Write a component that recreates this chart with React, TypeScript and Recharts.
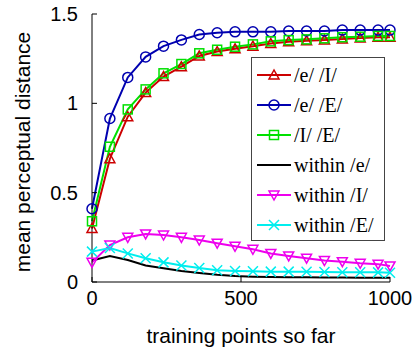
import React from 'react'
import { LineChart, Line, XAxis, YAxis, Label } from 'recharts'

// training points at which distances were measured
const trainingPoints = [0, 60, 120, 180, 240, 300, 360, 420, 480, 540, 600, 660, 720, 780, 840, 900, 960, 1000]

// between-category distances
const eVsI = [0.3, 0.69, 0.925, 1.06, 1.15, 1.205, 1.265, 1.29, 1.305, 1.32, 1.335, 1.345, 1.35, 1.355, 1.36, 1.365, 1.37, 1.37]
const eVsE = [0.41, 0.915, 1.145, 1.26, 1.32, 1.355, 1.385, 1.395, 1.4, 1.4, 1.4, 1.405, 1.405, 1.405, 1.41, 1.41, 1.41, 1.41]
const iVsE = [0.34, 0.757, 0.966, 1.078, 1.168, 1.22, 1.28, 1.3, 1.317, 1.33, 1.347, 1.354, 1.358, 1.364, 1.37, 1.373, 1.377, 1.377]

// within-category distances
const withinE = [0.12, 0.145, 0.123, 0.092, 0.077, 0.062, 0.05, 0.04, 0.033, 0.03, 0.028, 0.027, 0.026, 0.025, 0.025, 0.024, 0.024, 0.024]
const withinI = [0.11, 0.207, 0.25, 0.269, 0.263, 0.25, 0.235, 0.217, 0.2, 0.183, 0.16, 0.146, 0.133, 0.12, 0.114, 0.105, 0.1, 0.09]
const withinEps = [0.17, 0.19, 0.16, 0.133, 0.11, 0.092, 0.078, 0.066, 0.062, 0.06, 0.058, 0.058, 0.057, 0.056, 0.055, 0.055, 0.054, 0.052]

const xTicks = [0, 500, 1000]
const yTicks = [0, 0.5, 1, 1.5]

type Shape = 'triUp' | 'circle' | 'square' | 'none' | 'triDown' | 'cross'

const series: { key: string; name: string; color: string; shape: Shape; values: number[] }[] = [
  { key: 'eI', name: '/e/ /I/', color: '#cc0000', shape: 'triUp', values: eVsI },
  { key: 'eE', name: '/e/ /E/', color: '#0000b0', shape: 'circle', values: eVsE },
  { key: 'IE', name: '/I/ /E/', color: '#00e000', shape: 'square', values: iVsE },
  { key: 'we', name: 'within /e/', color: '#000000', shape: 'none', values: withinE },
  { key: 'wI', name: 'within /I/', color: '#ee00ee', shape: 'triDown', values: withinI },
  { key: 'wE', name: 'within /E/', color: '#00eeee', shape: 'cross', values: withinEps },
]

const data = trainingPoints.map((x, i) => {
  const row: Record<string, number> = { x }
  series.forEach(s => { row[s.key] = s.values[i] })
  return row
})

function Marker({ cx, cy, shape, color }: { cx?: number; cy?: number; shape: Shape; color: string }) {
  if (cx == null || cy == null || shape === 'none') return null
  const s = 5
  const common = { fill: 'none', stroke: color, strokeWidth: 1.5 }
  switch (shape) {
    case 'triUp':
      return <polygon points={`${cx},${cy - s} ${cx - s},${cy + s * 0.8} ${cx + s},${cy + s * 0.8}`} {...common} />
    case 'triDown':
      return <polygon points={`${cx},${cy + s} ${cx - s},${cy - s * 0.8} ${cx + s},${cy - s * 0.8}`} {...common} />
    case 'circle':
      return <circle cx={cx} cy={cy} r={s} {...common} />
    case 'square':
      return <rect x={cx - 4.5} y={cy - 4.5} width={9} height={9} {...common} />
    case 'cross':
      return <path d={`M${cx - s},${cy - s}L${cx + s},${cy + s}M${cx - s},${cy + s}L${cx + s},${cy - s}`} {...common} />
  }
  return null
}

const tickStyle = { fontSize: 20, fill: '#000', fontFamily: '"Liberation Sans", Arial, sans-serif' }

export default function App() {
  return (
    <div style={{ position: 'absolute', left: 0, top: 0, width: 418, height: 347, background: '#fff' }}>
      <LineChart width={418} height={347} data={data} margin={{ top: 14, right: 28, left: 0, bottom: 0 }}>
        <XAxis
          dataKey="x"
          type="number"
          domain={[0, 1000]}
          ticks={xTicks}
          stroke="#000"
          tick={tickStyle}
          tickSize={-5}
          tickMargin={14}
          height={65}
        >
          <Label
            value="training points so far"
            position="insideBottom"
            offset={4}
            fontSize={21}
            fill="#000"
            fontFamily='"Liberation Sans", Arial, sans-serif'
          />
        </XAxis>
        <YAxis
          type="number"
          domain={[0, 1.5]}
          ticks={yTicks}
          stroke="#000"
          tick={tickStyle}
          tickSize={-5}
          tickMargin={19}
          width={92}
        >
          <Label
            content={() => (
              <text
                x={30}
                y={152}
                transform="rotate(-90 30 152)"
                textAnchor="middle"
                fontSize={21}
                fill="#000"
                fontFamily='"Liberation Sans", Arial, sans-serif'
              >
                mean perceptual distance
              </text>
            )}
          />
        </YAxis>
        {series.map(s => (
          <Line
            key={s.key}
            dataKey={s.key}
            name={s.name}
            stroke={s.color}
            strokeWidth={2}
            isAnimationActive={false}
            dot={(p: any) => <Marker key={`${s.key}-${p.index}`} cx={p.cx} cy={p.cy} shape={s.shape} color={s.color} />}
            activeDot={false}
          />
        ))}
      </LineChart>
      <div
        style={{
          position: 'absolute',
          left: 251,
          top: 57,
          width: 134,
          height: 184,
          boxSizing: 'border-box',
          border: '1px solid #444',
          background: '#fff',
          paddingTop: 2,
          paddingLeft: 4,
          fontFamily: '"Liberation Serif", "Times New Roman", serif',
          fontSize: 20,
          color: '#000',
        }}
      >
        {series.map(s => (
          <div key={s.key} style={{ display: 'flex', alignItems: 'center', height: 30 }}>
            <svg width={36} height={30}>
              <line x1={1} y1={15} x2={35} y2={15} stroke={s.color} strokeWidth={2} />
              <Marker cx={18} cy={15} shape={s.shape} color={s.color} />
            </svg>
            <span style={{ marginLeft: 2, whiteSpace: 'pre' }}>{s.name}</span>
          </div>
        ))}
      </div>
    </div>
  )
}
